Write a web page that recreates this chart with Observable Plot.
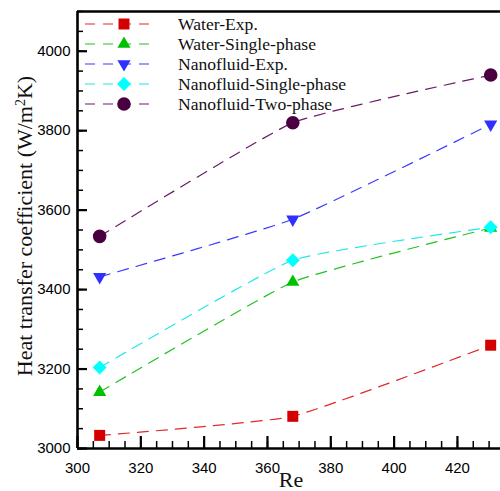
<!DOCTYPE html>
<html>
<head>
<meta charset="utf-8">
<script src="https://cdn.jsdelivr.net/npm/d3@7"></script>
<script src="https://cdn.jsdelivr.net/npm/@observablehq/plot@0.6"></script>
<style>
  html, body { margin: 0; padding: 0; background: #fff; }
  #chart { position: relative; width: 500px; height: 491px; overflow: hidden; }
</style>
</head>
<body>
<div id="chart"></div>
<script>
// ---- data ----
const re = [307, 368, 430.5];
const waterExp = [3033, 3081, 3260];
const waterSingle = [3142, 3419, 3555];
const nanoExp = [3432, 3577, 3816];
const nanoSingle = [3204, 3474, 3557];
const nanoTwo = [3534, 3820, 3940];
const seriesNames = ["Water-Exp.", "Water-Single-phase", "Nanofluid-Exp.", "Nanofluid-Single-phase", "Nanofluid-Two-phase"];
const seriesValues = [waterExp, waterSingle, nanoExp, nanoSingle, nanoTwo];
const xMajor = [300, 320, 340, 360, 380, 400, 420];
const yMajor = [3000, 3200, 3400, 3600, 3800, 4000];

// ---- styles ----
const lineColors = ["#e02a2a", "#22c022", "#3a3aff", "#22e8e8", "#6a1a6a"];
const markColors = ["#d40000", "#00c000", "#2f2fff", "#00ffff", "#4a0040"];
const triDown = {
  draw(ctx, size) {
    const s = Math.sqrt(size / (Math.sqrt(3) / 4));
    const ht = s * Math.sqrt(3) / 2;
    ctx.moveTo(-s / 2, -ht / 3);
    ctx.lineTo(s / 2, -ht / 3);
    ctx.lineTo(0, 2 * ht / 3);
    ctx.closePath();
  }
};
const triUp = {
  draw(ctx, size) {
    const s = Math.sqrt(size / (Math.sqrt(3) / 4));
    const ht = s * Math.sqrt(3) / 2;
    ctx.moveTo(-s / 2, ht / 3);
    ctx.lineTo(s / 2, ht / 3);
    ctx.lineTo(0, -2 * ht / 3);
    ctx.closePath();
  }
};
const symbols = ["square", triUp, triDown, "diamond2", "circle"];
const radii = [6.2, 4.9, 4.9, 6.3, 6.8];

const rows = [];
seriesNames.forEach((name, i) => {
  re.forEach((x, j) => rows.push({series: name, idx: i, re: x, h: seriesValues[i][j]}));
});

const serif = "'Liberation Serif', 'Times New Roman', serif";
const sans = "'Liberation Sans', Arial, sans-serif";

const marks = [];
seriesNames.forEach((name, i) => {
  const d = rows.filter(r => r.idx === i);
  marks.push(Plot.line(d, {x: "re", y: "h", stroke: lineColors[i], strokeWidth: 1.2, strokeDasharray: "11,8", curve: "cardinal", tension: 0.6}));
});
seriesNames.forEach((name, i) => {
  const d = rows.filter(r => r.idx === i);
  marks.push(Plot.dot(d, {x: "re", y: "h", fill: markColors[i], stroke: "none", symbol: () => symbols[i], r: radii[i]}));
});

const plot = Plot.plot({
  width: 500,
  height: 491,
  marginLeft: 77,
  marginTop: 11,
  marginRight: 0,
  marginBottom: 43,
  style: {background: "#fff", overflow: "visible"},
  x: {domain: [300, 433.6]},
  y: {domain: [3000, 4100]},
  symbol: {type: "identity"},
  marks: [
    ...marks,
    // minor ticks
    Plot.axisX({ticks: d3.range(300, 434, 5), tickSize: -7, text: null, label: null, strokeWidth: 1.5}),
    Plot.axisY({ticks: d3.range(3000, 4101, 50), tickSize: -6, text: null, label: null, strokeWidth: 1.5}),
    // major ticks
    Plot.axisX({ticks: xMajor, tickSize: -12, text: null, label: null, strokeWidth: 2.2}),
    Plot.axisY({ticks: yMajor, tickSize: -10, text: null, label: null, strokeWidth: 2.2}),
    // labels
    Plot.axisX({ticks: xMajor, tickSize: 0, tickPadding: 14, label: null, fontSize: 15, fontFamily: sans, tickFormat: d => String(d)}),
    Plot.axisY({ticks: yMajor, tickSize: 0, tickPadding: 7, label: null, fontSize: 15, fontFamily: sans, tickFormat: d => String(d)}),
    Plot.ruleX([300], {strokeWidth: 2.6}),
    Plot.ruleY([3000], {strokeWidth: 2.6}),
    Plot.ruleY([4100], {strokeWidth: 2.6})
  ]
});
plot.setAttribute("font-family", sans);
document.getElementById("chart").appendChild(plot);

// axis titles
const svg = d3.select(plot);
svg.append("text")
  .attr("x", 291).attr("y", 487)
  .attr("text-anchor", "middle")
  .attr("font-family", serif).attr("font-size", 22)
  .attr("fill", "#111")
  .text("Re");
const yt = svg.append("text")
  .attr("transform", "translate(32,226) rotate(-90)")
  .attr("text-anchor", "middle")
  .attr("font-family", serif).attr("font-size", 22)
  .attr("fill", "#111");
yt.append("tspan").text("Heat transfer coefficient (W/m");
yt.append("tspan").attr("baseline-shift", "super").attr("font-size", 14).text("2");
yt.append("tspan").text("K)");

// legend
const lg = svg.append("g").attr("text-anchor", "start");
const legendY = [24, 44, 64, 84, 104];
seriesNames.forEach((name, i) => {
  const y = legendY[i];
  lg.append("line").attr("x1", 85).attr("x2", 157).attr("y1", y).attr("y2", y)
    .attr("stroke", lineColors[i]).attr("stroke-width", 1.2).attr("stroke-dasharray", "10,8");
  const sym = typeof symbols[i] === "string"
    ? ({square: d3.symbolSquare, diamond2: d3.symbolDiamond2, circle: d3.symbolCircle})[symbols[i]]
    : symbols[i];
  lg.append("path").attr("transform", `translate(124,${y})`)
    .attr("d", d3.symbol(sym, radii[i] * radii[i] * Math.PI)())
    .attr("fill", markColors[i]);
  lg.append("text").attr("x", 178).attr("y", y).attr("dy", "0.35em")
    .attr("text-anchor", "start")
    .attr("font-family", serif).attr("font-size", 17.6).attr("fill", "#111")
    .text(name);
});
</script>
</body>
</html>
